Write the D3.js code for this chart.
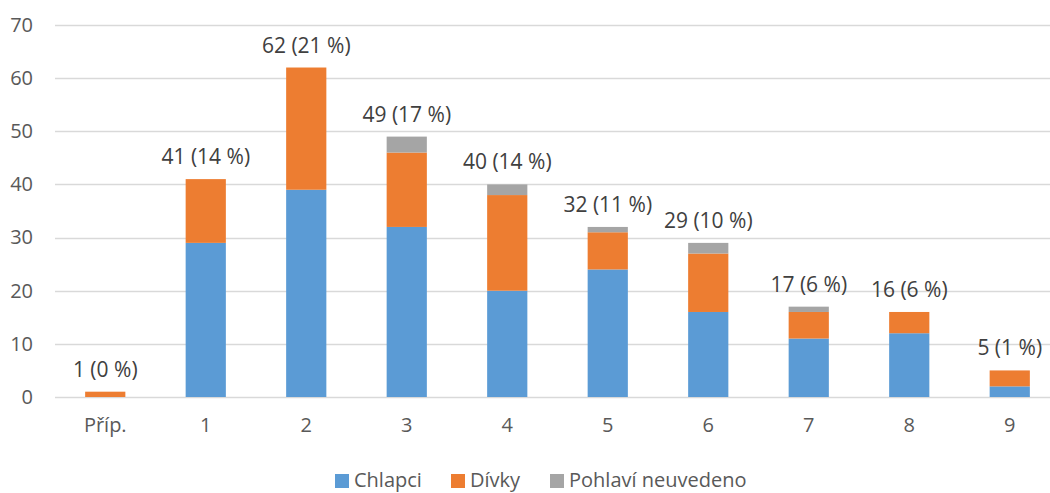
<!DOCTYPE html>
<html><head><meta charset="utf-8">
<script src="https://cdn.jsdelivr.net/npm/d3@7"></script>
<style>body{margin:0;background:#fff;}svg{display:block;font-family:"Open Sans",sans-serif;}</style>
</head><body>
<svg id="c" width="1050" height="493"></svg>
<script>
const categories = ["Příp.", "1", "2", "3", "4", "5", "6", "7", "8", "9"];
const chlapci = [0, 29, 39, 32, 20, 24, 16, 11, 12, 2];
const divky = [1, 12, 23, 14, 18, 7, 11, 5, 4, 3];
const neuvedeno = [0, 0, 0, 3, 2, 1, 2, 1, 0, 0];
const totalLabels = ["1 (0 %)", "41 (14 %)", "62 (21 %)", "49 (17 %)", "40 (14 %)", "32 (11 %)", "29 (10 %)", "17 (6 %)", "16 (6 %)", "5 (1 %)"];
const seriesNames = ["Chlapci", "Dívky", "Pohlaví neuvedeno"];
const colors = ["#5b9bd5", "#ed7d31", "#a5a5a5"];
const yTicks = [0, 10, 20, 30, 40, 50, 60, 70];

const svg = d3.select("#c");
const x = d3.scaleBand().domain(categories).range([55, 1060]).paddingInner(0.6).paddingOuter(0.3);
const y = d3.scaleLinear().domain([0, 70]).range([397, 25]);

svg.append("g").selectAll("line").data(yTicks).join("line")
  .attr("x1", 55).attr("x2", 1050)
  .attr("y1", d => Math.round(y(d)) + 0.5).attr("y2", d => Math.round(y(d)) + 0.5)
  .attr("stroke", "#d9d9d9").attr("stroke-width", 1.3);

const yAxis = d3.axisLeft(y).tickValues(yTicks).tickSize(0).tickPadding(0);
const ya = svg.append("g").attr("transform", "translate(33,0)").call(yAxis);
ya.select(".domain").remove();
ya.selectAll("text").attr("font-size", 20).attr("fill", "#595959").attr("font-family", "Open Sans");

const rows = categories.map((c, i) => ({cat: c, s0: chlapci[i], s1: divky[i], s2: neuvedeno[i]}));
const stack = d3.stack().keys(["s0", "s1", "s2"])(rows);

svg.append("g").selectAll("g").data(stack).join("g")
  .attr("fill", (d, i) => colors[i])
  .selectAll("rect").data(d => d).join("rect")
  .attr("x", d => x(d.data.cat))
  .attr("width", x.bandwidth())
  .attr("y", d => y(d[1]))
  .attr("height", d => y(d[0]) - y(d[1]));

const xAxis = d3.axisBottom(x).tickSize(0).tickPadding(0);
const xa = svg.append("g").attr("transform", "translate(0,418)").call(xAxis);
xa.select(".domain").remove();
xa.selectAll("text").attr("font-size", 20).attr("fill", "#595959").attr("font-family", "Open Sans").attr("dy", "0.71em");

svg.append("g").selectAll("text").data(rows).join("text")
  .attr("x", d => x(d.cat) + x.bandwidth() / 2)
  .attr("y", (d, i) => y(chlapci[i] + divky[i] + neuvedeno[i]) - 15)
  .attr("text-anchor", "middle")
  .attr("font-size", 21).attr("fill", "#404040")
  .text((d, i) => totalLabels[i]);

const legendX = [335, 451, 550];
const lg = svg.append("g");
seriesNames.forEach((n, i) => {
  lg.append("rect").attr("x", legendX[i]).attr("y", 474).attr("width", 14).attr("height", 14).attr("fill", colors[i]);
  lg.append("text").attr("x", legendX[i] + 19).attr("y", 487).attr("font-size", 20).attr("fill", "#595959").text(n);
});
</script>
</body></html>
